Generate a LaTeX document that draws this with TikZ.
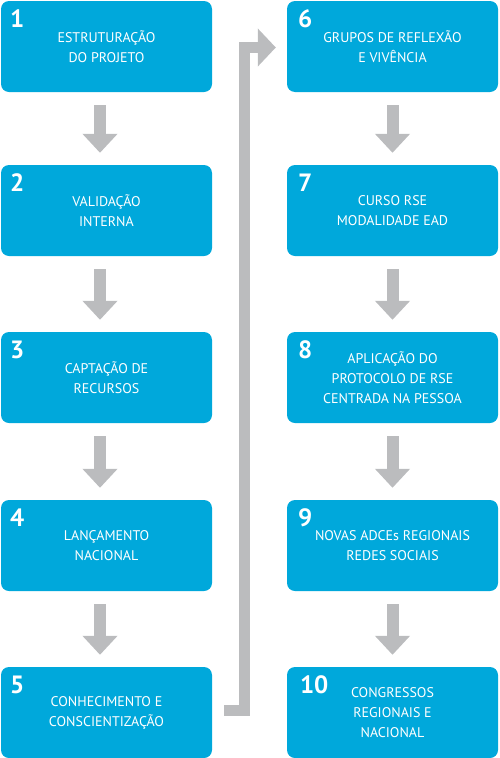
\documentclass[tikz,border=0pt]{standalone}
\usepackage{fontspec}
\setmainfont{PT Sans}
\usetikzlibrary{arrows.meta,positioning}
\definecolor{boxcyan}{RGB}{0,168,219}
\definecolor{arrowgray}{RGB}{187,188,190}

\begin{document}
\begin{tikzpicture}[x=1pt,y=-1pt]
\tikzset{
  stepbox/.style={rectangle,rounded corners=8pt,fill=boxcyan,draw=none,minimum width=211pt,minimum height=91pt,inner sep=0pt,align=center,text=white,font=\fontsize{14}{20}\selectfont},
  numlabel/.style={anchor=north west,inner sep=0pt,text=white,font=\fontsize{25}{25}\selectfont\bfseries},
  downarrow/.style={draw=arrowgray,line width=12pt,shorten <=13pt,shorten >=12pt,-{Triangle[length=19pt,width=34pt]}},
  turnarrow/.style={draw=arrowgray,line width=11pt,line join=miter,shorten <=12pt,shorten >=11pt,-{Triangle[length=18pt,width=37pt]}}
}
\useasboundingbox (0,0) rectangle (499,758);
\node[stepbox] (n_1) at (106.5,46.5) {ESTRUTURAÇÃO\\DO PROJETO};
\node[stepbox] (n_2) at (106.5,210.5) {VALIDAÇÃO\\INTERNA};
\node[stepbox] (n_3) at (106.5,377.5) {CAPTAÇÃO DE\\RECURSOS};
\node[stepbox] (n_4) at (106.5,545.5) {LANÇAMENTO\\NACIONAL};
\node[stepbox] (n_5) at (106.5,712.5) {CONHECIMENTO E\\CONSCIENTIZAÇÃO};
\node[stepbox] (n_6) at (392.5,46.5) {GRUPOS DE REFLEXÃO\\E VIVÊNCIA};
\node[stepbox] (n_7) at (392.5,210.5) {CURSO RSE\\MODALIDADE EAD};
\node[stepbox] (n_8) at (392.5,377.5) {APLICAÇÃO DO\\PROTOCOLO DE RSE\\CENTRADA NA PESSOA};
\node[stepbox] (n_9) at (392.5,545.5) {NOVAS ADCEs REGIONAIS\\REDES SOCIAIS};
\node[stepbox] (n_10) at (392.5,712.5) {CONGRESSOS\\REGIONAIS E\\NACIONAL};
\node[numlabel] (l_1) at ([xshift=9pt,yshift=-9pt]n_1.north west) {1};
\node[numlabel] (l_2) at ([xshift=9pt,yshift=-9pt]n_2.north west) {2};
\node[numlabel] (l_3) at ([xshift=9pt,yshift=-9pt]n_3.north west) {3};
\node[numlabel] (l_4) at ([xshift=9pt,yshift=-9pt]n_4.north west) {4};
\node[numlabel] (l_5) at ([xshift=9pt,yshift=-9pt]n_5.north west) {5};
\node[numlabel] (l_6) at ([xshift=11pt,yshift=-9pt]n_6.north west) {6};
\node[numlabel] (l_7) at ([xshift=11pt,yshift=-9pt]n_7.north west) {7};
\node[numlabel] (l_8) at ([xshift=11pt,yshift=-9pt]n_8.north west) {8};
\node[numlabel] (l_9) at ([xshift=11pt,yshift=-9pt]n_9.north west) {9};
\node[numlabel] (l_10) at ([xshift=13pt,yshift=-9pt]n_10.north west) {10};
\draw[downarrow] ([xshift=-6.5pt]n_1.south) -- ([xshift=-6.5pt]n_2.north);
\draw[downarrow] ([xshift=-6.5pt]n_2.south) -- ([xshift=-6.5pt]n_3.north);
\draw[downarrow] ([xshift=-6.5pt]n_3.south) -- ([xshift=-6.5pt]n_4.north);
\draw[downarrow] ([xshift=-6.5pt]n_4.south) -- ([xshift=-6.5pt]n_5.north);
\draw[downarrow] (n_6.south) -- (n_7.north);
\draw[downarrow] (n_7.south) -- (n_8.north);
\draw[downarrow] (n_8.south) -- (n_9.north);
\draw[downarrow] (n_9.south) -- (n_10.north);
\draw[turnarrow] ([yshift=2pt]n_5.east) -- ++(32,0) |- ([yshift=-1pt]n_6.west);
\end{tikzpicture}
\end{document}
